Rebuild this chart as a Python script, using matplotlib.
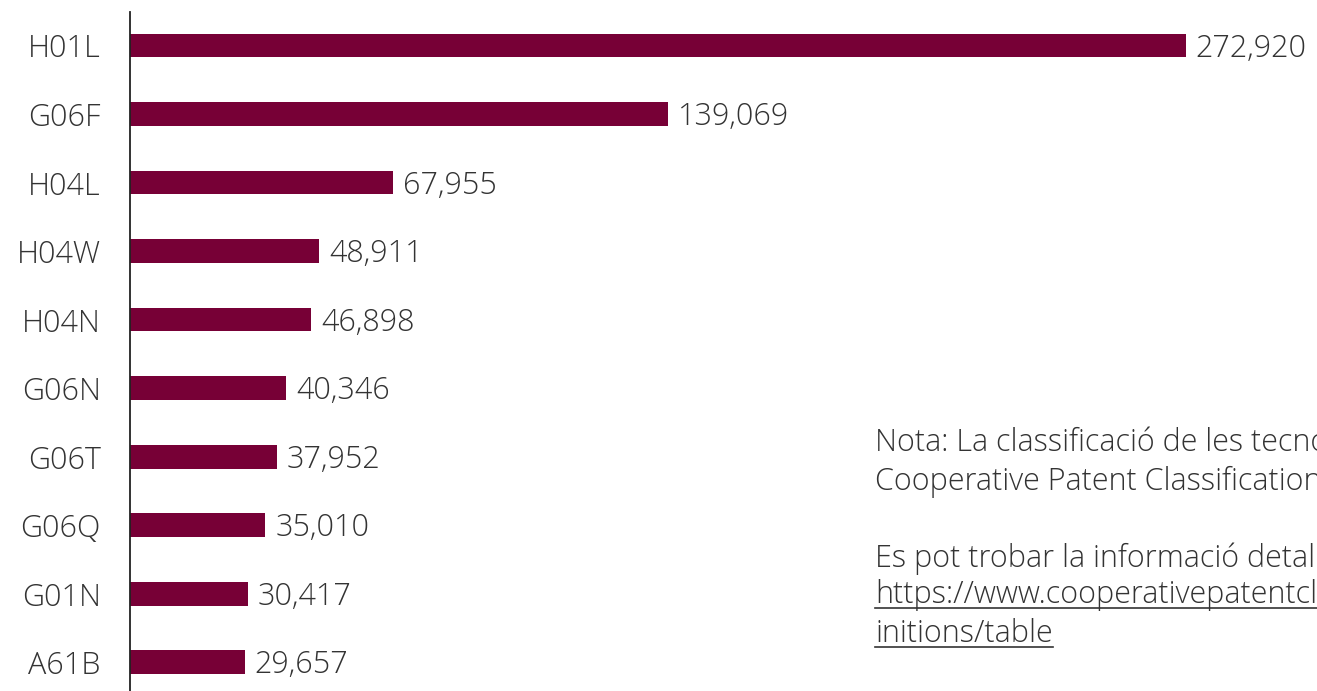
import matplotlib
matplotlib.use("Agg")
import matplotlib.pyplot as plt
from matplotlib.lines import Line2D

# CPC technology classes and patent counts
categories = ["H01L", "G06F", "H04L", "H04W", "H04N", "G06N", "G06T", "G06Q", "G01N", "A61B"]
counts = [272920, 139069, 67955, 48911, 46898, 40346, 37952, 35010, 30417, 29657]
value_labels = ["272,920", "139,069", "67,955", "48,911", "46,898",
                "40,346", "37,952", "35,010", "30,417", "29,657"]

note_lines = [
    "Nota: La classificació de les tecnologies",
    "Cooperative Patent Classification (CPC).",
    "Es pot trobar la informació detallada a:",
    "https://www.cooperativepatentclassification.org/cpcSchemeAndDef",
    "initions/table",
]
note_baselines = [451, 490, 567, 603, 642]
link_lines = {3, 4}

BAR = "#770036"
TEXT = "#333333"
FONT = "Open Sans"

W, H = 1317, 691
fig = plt.figure(figsize=(W / 100, H / 100), dpi=100)
ax = fig.add_axes([130 / W, 0, (W - 130) / W, (H - 12) / H])

pos = list(range(len(categories)))
bars = ax.barh(pos, counts, height=0.35, color=BAR)
ax.set_xlim(0, 306800)
ax.set_ylim(9.423, -0.489)

ax.set_yticks(pos)
ax.set_yticklabels(categories, fontsize=22, color=TEXT, family=FONT, fontweight="light")
ax.tick_params(axis="y", length=0, pad=21)
ax.set_xticks([])
for s in ("top", "right", "bottom"):
    ax.spines[s].set_visible(False)
ax.spines["left"].set_color("#222222")
ax.spines["left"].set_linewidth(1.3)

# value labels next to each bar end, digits centred on the bar
for p, v, lab in zip(pos, counts, value_labels):
    ax.annotate(lab, xy=(v, p), xytext=(7, -8), textcoords="offset points",
                ha="left", va="baseline", fontsize=22, color=TEXT,
                family=FONT, fontweight="light")

# Footnote block on the right
fig.canvas.draw()
renderer = fig.canvas.get_renderer()
for i, (line, yb) in enumerate(zip(note_lines, note_baselines)):
    t = fig.text(875 / W, 1 - yb / H, line, fontsize=22, color=TEXT, family=FONT,
                 fontweight="light", va="baseline", ha="left")
    if i in link_lines:
        bb = t.get_window_extent(renderer=renderer)
        x1 = min(bb.x1, W)
        yl = H - yb - 5
        fig.add_artist(Line2D([bb.x0 / W, x1 / W], [yl / H, yl / H],
                              transform=fig.transFigure, color=TEXT, linewidth=1.2))

fig.savefig("out.png", dpi=100)
